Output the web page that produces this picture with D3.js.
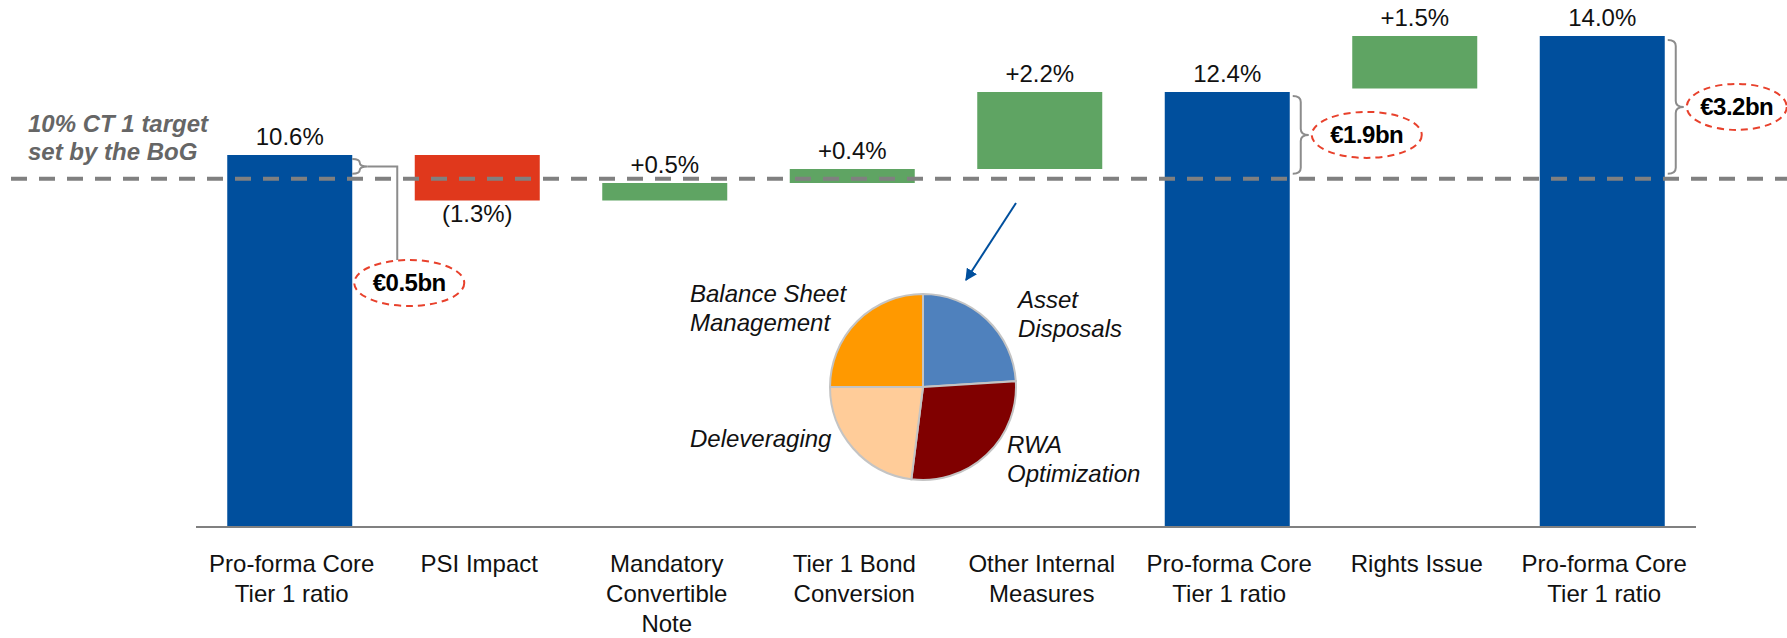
<!DOCTYPE html>
<html>
<head>
<meta charset="utf-8">
<script src="https://cdn.jsdelivr.net/npm/d3@7"></script>
<style>
  html, body { margin: 0; padding: 0; background: #fff; }
  svg { display: block; font-family: "Liberation Sans", Arial, sans-serif; }
</style>
</head>
<body>
<div id="chart"></div>
<script>
// categories (each label split in lines)
const categories = [
  ['Pro-forma Core', 'Tier 1 ratio'],
  ['PSI Impact'],
  ['Mandatory', 'Convertible', 'Note'],
  ['Tier 1 Bond', 'Conversion'],
  ['Other Internal', 'Measures'],
  ['Pro-forma Core', 'Tier 1 ratio'],
  ['Rights Issue'],
  ['Pro-forma Core', 'Tier 1 ratio']
];
// step values in % (total bars hold the level, the others the change)
const stepValues = [10.6, -1.3, 0.5, 0.4, 2.2, 12.4, 1.5, 14.0];
const stepKinds = ['total', 'delta', 'delta', 'delta', 'delta', 'total', 'delta', 'total'];
const valueLabels = ['10.6%', '(1.3%)', '+0.5%', '+0.4%', '+2.2%', '12.4%', '+1.5%', '14.0%'];

// CT1 target line, as drawn in the picture
const targetLevel = 9.92;
const targetLabel = ['10% CT 1 target', 'set by the BoG'];

// capital surplus above the target, per total bar
const surplusBars = [0, 5, 7];
const surplusLabels = ['€0.5bn', '€1.9bn', '€3.2bn'];

// breakdown of other internal measures
const pieNames = ['Asset Disposals', 'RWA Optimization', 'Deleveraging', 'Balance Sheet Management'];
const pieValues = [24, 28, 23, 25];
const pieColors = ['#4F81BD', '#800000', '#FFCC99', '#FF9900'];

var width = 1787, height = 638;
var blue = '#004F9D', green = '#5FA463', red = '#E0381C', grey = '#808080';

var svg = d3.select('#chart').append('svg')
  .attr('width', width)
  .attr('height', height);

var x = d3.scaleBand()
  .domain(d3.range(categories.length))
  .range([196, 1696])
  .paddingInner(1 / 3)
  .paddingOuter(1 / 6);

var y = d3.scaleLinear().domain([0, 15]).range([526, 1]);

// build waterfall segments, deltas hang from the next total (walk backwards)
var bars = new Array(stepValues.length);
var level = 0;
for (var i = stepValues.length - 1; i >= 0; i--) {
  var v = stepValues[i];
  if (stepKinds[i] === 'total') {
    level = v;
    bars[i] = { i: i, lo: 0, hi: v, v: v, color: blue };
  } else {
    var before = level - v;
    bars[i] = {
      i: i,
      lo: Math.min(before, level),
      hi: Math.max(before, level),
      v: v,
      color: v < 0 ? red : green
    };
    level = before;
  }
}

svg.append('g').selectAll('rect')
  .data(bars)
  .enter()
  .append('rect')
  .attr('x', d => x(d.i))
  .attr('width', x.bandwidth())
  .attr('y', d => y(d.hi))
  .attr('height', d => y(d.lo) - y(d.hi))
  .attr('fill', d => d.color);

// value labels
svg.append('g').selectAll('text')
  .data(bars)
  .enter()
  .append('text')
  .attr('x', d => x(d.i) + x.bandwidth() / 2)
  .attr('y', d => d.v < 0 ? y(d.lo) + 21 : y(d.hi) - 10)
  .attr('text-anchor', 'middle')
  .attr('font-size', 24)
  .attr('fill', '#111')
  .text(d => valueLabels[d.i]);

// target line
svg.append('line')
  .attr('x1', 11).attr('x2', width)
  .attr('y1', y(targetLevel)).attr('y2', y(targetLevel))
  .attr('stroke', grey)
  .attr('stroke-width', 4)
  .attr('stroke-dasharray', '16 12');

svg.append('text')
  .attr('x', 28)
  .attr('y', 132)
  .attr('font-size', 24)
  .attr('font-weight', 'bold')
  .attr('font-style', 'italic')
  .attr('fill', '#666')
  .selectAll('tspan')
  .data(targetLabel)
  .enter()
  .append('tspan')
  .attr('x', 28)
  .attr('dy', (d, i) => i ? 28 : 0)
  .text(d => d);

// x axis line + labels
svg.append('line')
  .attr('x1', x.range()[0]).attr('x2', x.range()[1])
  .attr('y1', y(0) + 1).attr('y2', y(0) + 1)
  .attr('stroke', grey)
  .attr('stroke-width', 2);

var labels = svg.append('g').selectAll('text')
  .data(categories)
  .enter()
  .append('text')
  .attr('text-anchor', 'middle')
  .attr('font-size', 24)
  .attr('fill', '#111');
labels.selectAll('tspan')
  .data((d, i) => d.map(line => ({ line: line, i: i })))
  .enter()
  .append('tspan')
  .attr('x', d => x(d.i) + x.bandwidth() / 2 + 2)
  .attr('y', (d, j) => 572 + j * 30)
  .text(d => d.line);

// curly brace opening to the left
function brace(x0, y1, y2, w) {
  var ym = (y1 + y2) / 2, xm = x0 + w / 2;
  var r = Math.min(6, (y2 - y1) / 4);
  return 'M' + x0 + ',' + y1 +
    'Q' + xm + ',' + y1 + ' ' + xm + ',' + (y1 + r) +
    'L' + xm + ',' + (ym - r) +
    'Q' + xm + ',' + ym + ' ' + (x0 + w) + ',' + ym +
    'Q' + xm + ',' + ym + ' ' + xm + ',' + (ym + r) +
    'L' + xm + ',' + (y2 - r) +
    'Q' + xm + ',' + y2 + ' ' + x0 + ',' + y2;
}

function surplusBubble(cx, cy, rx, label) {
  svg.append('ellipse')
    .attr('cx', cx).attr('cy', cy)
    .attr('rx', rx).attr('ry', 23)
    .attr('fill', 'none')
    .attr('stroke', '#E8412C')
    .attr('stroke-width', 2)
    .attr('stroke-dasharray', '7 5');
  svg.append('text')
    .attr('x', cx).attr('y', cy + 8)
    .attr('text-anchor', 'middle')
    .attr('font-size', 24)
    .attr('font-weight', 'bold')
    .attr('letter-spacing', -0.5)
    .attr('fill', '#000')
    .text(label);
}

surplusBars.forEach((b, k) => {
  var right = x(b) + x.bandwidth();
  var y1 = y(stepValues[b]) + 4, y2 = y(targetLevel) - 5;
  var ym = (y1 + y2) / 2;
  var bracket = svg.append('path')
    .attr('fill', 'none')
    .attr('stroke', '#8c8c8c')
    .attr('stroke-width', 2);
  if (k === 0) {
    // small brace with an elbow connector down to the bubble
    bracket.attr('d', brace(right, y1, y2, 15));
    svg.append('path')
      .attr('d', 'M' + (right + 15) + ',' + ym + 'H' + (right + 45) + 'V260')
      .attr('fill', 'none')
      .attr('stroke', '#8c8c8c')
      .attr('stroke-width', 2);
    surplusBubble(right + 57, 283, 55, surplusLabels[k]);
  } else {
    bracket.attr('d', brace(right + 3, y1, y2, 16));
    var rx = k === 2 ? 50 : 55;
    surplusBubble(right + 22 + rx, ym, rx, surplusLabels[k]);
  }
});

// arrow from other internal measures to the pie
var defs = svg.append('defs');
defs.append('marker')
  .attr('id', 'arrow')
  .attr('viewBox', '0 0 10 10')
  .attr('refX', 9).attr('refY', 5)
  .attr('markerWidth', 6).attr('markerHeight', 6)
  .attr('orient', 'auto')
  .append('path')
  .attr('d', 'M0,0L10,5L0,10z')
  .attr('fill', '#004F9D');
svg.append('line')
  .attr('x1', 1016).attr('y1', 203)
  .attr('x2', 966).attr('y2', 280)
  .attr('stroke', '#004F9D')
  .attr('stroke-width', 2)
  .attr('marker-end', 'url(#arrow)');

// pie
var pieCx = 923, pieCy = 387, pieR = 93;
var pie = d3.pie().sort(null)(pieValues);
var arc = d3.arc().innerRadius(0).outerRadius(pieR);
var pieG = svg.append('g').attr('transform', 'translate(' + pieCx + ',' + pieCy + ')');
pieG.selectAll('path')
  .data(pie)
  .enter()
  .append('path')
  .attr('d', arc)
  .attr('fill', (d, i) => pieColors[i])
  .attr('stroke', '#c4c4c4')
  .attr('stroke-width', 2);

// pie labels: [dx, dy of first baseline]
var pieLabelPos = [[95, -79], [84, 66], [-233, 60], [-233, -85]];
var pieLines = [['Asset', 'Disposals'], ['RWA', 'Optimization'], ['Deleveraging'], ['Balance Sheet', 'Management']];
pieLines.forEach((lines, i) => {
  svg.append('text')
    .attr('font-size', 24)
    .attr('font-style', 'italic')
    .attr('fill', '#111')
    .selectAll('tspan')
    .data(lines)
    .enter()
    .append('tspan')
    .attr('x', pieCx + pieLabelPos[i][0])
    .attr('y', (d, j) => pieCy + pieLabelPos[i][1] + j * 28.5)
    .text(d => d);
});
</script>
</body>
</html>
